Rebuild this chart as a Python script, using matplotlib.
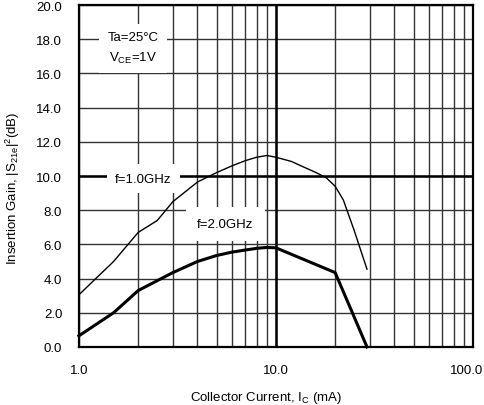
import matplotlib.pyplot as plt
import matplotlib.transforms as mtransforms

plt.rcParams['font.family'] = ['Liberation Sans', 'DejaVu Sans']
plt.rcParams['mathtext.default'] = 'regular'

# f=1.0GHz curve
ic_1g = [1, 1.5, 2, 2.5, 3, 4, 5, 6, 7, 8, 9, 10, 12, 14, 16, 18, 20, 22, 25, 29]
gain_1g = [3.05, 5.0, 6.7, 7.4, 8.5, 9.65, 10.2, 10.6, 10.9, 11.1, 11.2, 11.1,
           10.85, 10.5, 10.2, 9.9, 9.4, 8.6, 6.8, 4.55]

# f=2.0GHz curve
ic_2g = [1, 1.5, 2, 3, 4, 5, 6, 7, 8, 9, 10, 20, 29]
gain_2g = [0.65, 2.0, 3.3, 4.35, 5.0, 5.35, 5.55, 5.67, 5.77, 5.82, 5.8, 4.35, 0.0]

yticks = [0, 2, 4, 6, 8, 10, 12, 14, 16, 18, 20]
xticks = [1, 10, 100]

fig = plt.figure(figsize=(4.84, 4.06), dpi=100)
ax = fig.add_axes([0.163, 0.143, 0.814, 0.842])

ax.set_xscale('log')
ax.set_xlim(1, 100)
ax.set_ylim(0, 20)
ax.set_xticks(xticks)
ax.set_xticklabels(['%.1f' % v for v in xticks])
ax.set_yticks(yticks)
ax.set_yticklabels(['%.1f' % v for v in yticks])
ax.tick_params(which='both', length=0, labelsize=9.5)
ax.tick_params(axis='y', pad=12)
ax.tick_params(axis='x', pad=12)

# last x label sits a bit left of its tick, as in the original
lbl = ax.get_xticklabels()[-1]
lbl.set_transform(lbl.get_transform() + mtransforms.ScaledTranslation(-6 / 100, 0, fig.dpi_scale_trans))

ax.grid(which='both', axis='x', color='#333333', lw=1.0)
ax.grid(which='major', axis='y', color='#333333', lw=1.0)
ax.axvline(10, color='black', lw=1.8, zorder=1)
ax.axhline(10, color='black', lw=1.8, zorder=1)
ax.set_axisbelow(True)
for s in ax.spines.values():
    s.set_linewidth(1.6)

ax.plot(ic_1g, gain_1g, color='black', lw=1.0, zorder=4)
ax.plot(ic_2g, gain_2g, color='black', lw=2.2, zorder=4, clip_on=False)

ax.text(1.88, 17.5, 'Ta=25°C\nV$_{CE}$=1V', ha='center', va='center', fontsize=9.5,
        linespacing=1.6, bbox=dict(facecolor='white', edgecolor='none', pad=6), zorder=3)
ax.text(2.13, 9.85, 'f=1.0GHz', ha='center', va='center', fontsize=9.5,
        bbox=dict(facecolor='white', edgecolor='none', pad=6), zorder=3)
ax.text(5.55, 7.2, 'f=2.0GHz', ha='center', va='center', fontsize=9.5,
        bbox=dict(facecolor='white', edgecolor='none', pad=8), zorder=3)

ax.set_xlabel('Collector Current, I$_C$ (mA)', fontsize=9.5)
ax.set_ylabel('Insertion Gain, |S$_{21e}$|$^2$(dB)', fontsize=9.5)
ax.xaxis.set_label_coords(0.476, -0.122)
ax.yaxis.set_label_coords(-0.145, 0.468)

fig.savefig('out.png', dpi=100)
